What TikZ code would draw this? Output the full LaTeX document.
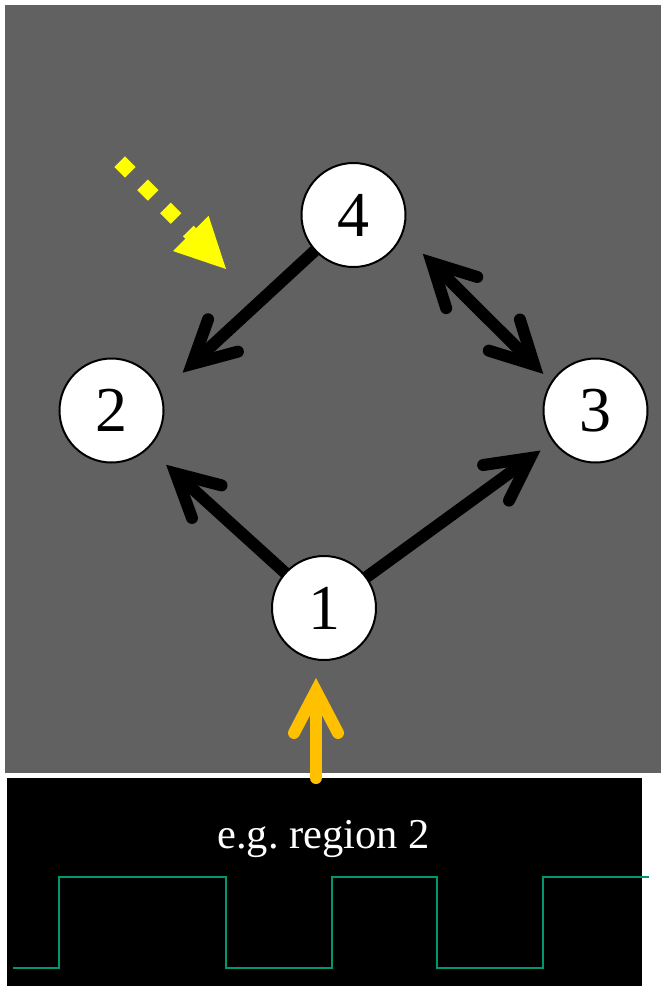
\documentclass[tikz,border=0pt]{standalone}
\usepackage{fontspec}
\setmainfont{Liberation Serif}
\usetikzlibrary{arrows.meta}
\pgfdeclarelayer{bg}
\pgfdeclarelayer{mid}
\pgfsetlayers{bg,mid,main}
\definecolor{panelgray}{RGB}{97,97,97}
\definecolor{wavegreen}{RGB}{0,150,112}
\definecolor{arrowyellow}{RGB}{255,255,0}
\definecolor{arroworange}{RGB}{255,192,0}
\tikzset{
  state/.style={circle, draw=black, line width=2pt, fill=white, minimum size=104pt,
    inner sep=0pt, font=\fontsize{64}{70}\selectfont},
  barbtip/.tip={Straight Barb[length=42pt,width=44pt,line width=12pt,line cap=round,line join=miter]},
  barb/.style={line width=12pt, line cap=round, -barbtip},
  dbarb/.style={line width=12pt, line cap=round, barbtip-barbtip},
  hint/.style={line width=15pt, arrowyellow, dash pattern=on 15pt off 17.5pt,
    -{Triangle[length=50pt,width=50pt,line width=0pt]}},
  wave/.style={wavegreen, line width=2pt},
}
\begin{document}
\begin{tikzpicture}[x=1pt,y=-1pt]
\useasboundingbox (0,0) rectangle (661,986);
\begin{pgfonlayer}{bg}
  \fill[white] (0,0) rectangle (661,986);
  \fill[panelgray] (5,5) rectangle (661,773);
  \fill[black] (7,778) rectangle (642,986);
\end{pgfonlayer}

\node[state] (n4) at (353.5,215) {4};
\node[state] (n2) at (111.5,410.5) {2};
\node[state] (n3) at (595.5,410.5) {3};
\node[state] (n1) at (324,608) {1};

\node[anchor=base, text=white, font=\fontsize{42.5}{48}\selectfont] (lbl) at (323.5,848)
  {e.g.\ region 2};

\coordinate (ys) at (119.7,161.7);
\coordinate (ye) at (226,269);
\coordinate (osrc) at (316,778);

\begin{pgfonlayer}{mid}
  \draw[barb, shorten >=29pt] (n4) -- (n2.20);
  \draw[barb, shorten >=24pt] (n1) -- (n2.-46);
  \draw[barb, shorten >=15pt] (n1) -- (n3.216);
  \draw[dbarb, shorten <=28pt, shorten >=11pt] (n4.-21) -- (n3.147);
  \draw[barb, arroworange, shorten >=17pt] (osrc) -- (osrc |- n1.south);
  \draw[hint] (ys) -- (ye);
\end{pgfonlayer}

\draw[wave] (13,968) -- (59,968) -- (59,877) -- (226,877) -- (226,968) -- (332,968)
  -- (332,877) -- (437,877) -- (437,968) -- (543,968) -- (543,877) -- (649,877);
\end{tikzpicture}
\end{document}
